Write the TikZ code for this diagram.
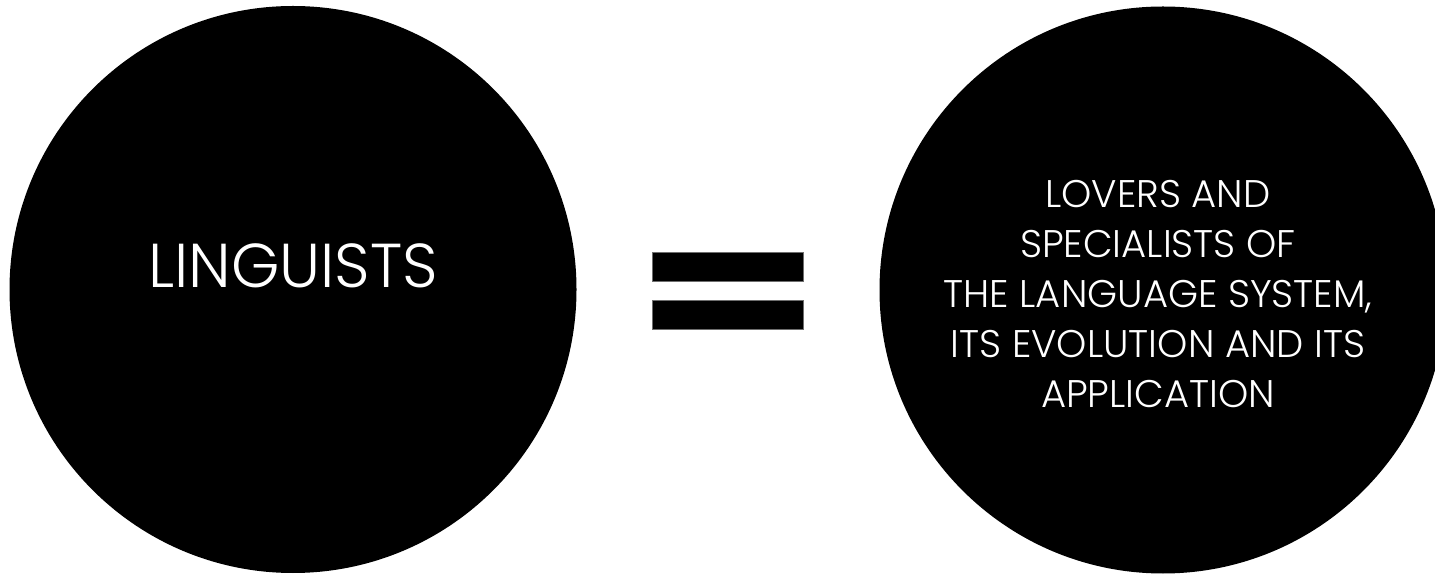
\documentclass[tikz,border=0pt]{standalone}
\usepackage{fontspec}
\setmainfont{Poppins}[UprightFont=* Light]
\usetikzlibrary{positioning}
\definecolor{ink}{RGB}{0,0,0}
\definecolor{barline}{RGB}{110,110,110}
\tikzset{disc/.style={circle,fill=ink,inner sep=0pt,minimum size=567pt},
  bigtext/.style={text=white,inner sep=0pt,font=\fontsize{62}{62}\selectfont},
  smalltext/.style={text=white,inner sep=0pt,align=center,font=\fontsize{38.5}{50}\selectfont},
  bar/.style={fill=ink,draw=barline,line width=0.6pt,minimum width=151pt,minimum height=29pt,inner sep=0pt}}
\begin{document}
\begin{tikzpicture}[x=1pt, y=1pt]
\useasboundingbox (0,0) rectangle (1435,576);
\clip (0,0) rectangle (1435,576);
\node[disc] (ling) at (293,286.5) {};
\node[disc] (lovers) at (1163,286) {};
\node[bigtext] (lingtext) at ([yshift=24pt]ling.center) {LINGUISTS};
\node[smalltext] (loverstext) at (1158,282) {LOVERS AND\\
  SPECIALISTS OF\\
  THE LANGUAGE SYSTEM,\\
  ITS EVOLUTION AND ITS\\
  APPLICATION};
\node[bar] (eqtop) at (727.5,309.5) {};
\node[bar, below=19pt of eqtop] (eqbot) {};
\end{tikzpicture}
\end{document}
